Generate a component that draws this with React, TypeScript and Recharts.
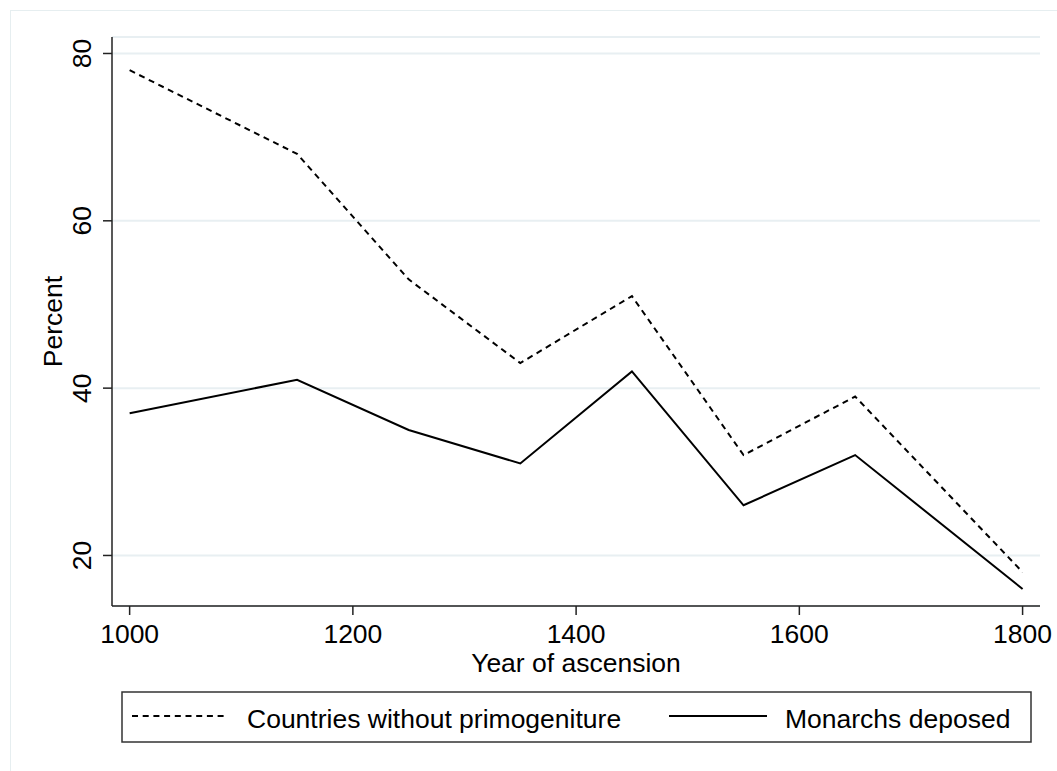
import React from 'react';
import { LineChart, Line, XAxis, YAxis, CartesianGrid, Legend } from 'recharts';

const years = [1000, 1150, 1250, 1350, 1450, 1550, 1650, 1800];
const noPrimogeniture = [78, 68, 53, 43, 51, 32, 39, 18];
const deposed = [37, 41, 35, 31, 42, 26, 32, 16];
const xTicks = [1000, 1200, 1400, 1600, 1800];
const yTicks = [20, 40, 60, 80];
const seriesNames = ['Countries without primogeniture', 'Monarchs deposed'];

const data = years.map((y, i) => ({ year: y, nop: noPrimogeniture[i], dep: deposed[i] }));

const FONT = '"Liberation Sans", Arial, Helvetica, sans-serif';
const AXIS = '#222';
const FS = 26.5;

const YTick = (props: any) => {
  const { x, y, payload } = props;
  return (
    <text x={x} y={y} transform={`rotate(-90, ${x}, ${y})`} textAnchor="middle" fontSize={FS} fontFamily={FONT} fill="#000">
      {payload.value}
    </text>
  );
};

const LegendBox = () => (
  <svg width={911} height={52} style={{ display: 'block' }}>
    <rect x={1} y={1} width={909} height={50} fill="#fff" stroke="#333" strokeWidth={1.5} />
    <line x1={11} x2={107} y1={25} y2={25} stroke="#000" strokeWidth={2} strokeDasharray="6 4.7" />
    <text x={126} y={36.5} fontSize={FS} fontFamily={FONT} fill="#000">{seriesNames[0]}</text>
    <line x1={548} x2={646} y1={25} y2={25} stroke="#000" strokeWidth={2} />
    <text x={664} y={36.5} fontSize={FS} fontFamily={FONT} fill="#000">{seriesNames[1]}</text>
  </svg>
);

export default function App() {
  return (
    <div style={{ position: 'absolute', left: 0, top: 0, width: 1057, height: 771, overflow: 'hidden', background: '#fff' }}>
      <div style={{ position: 'absolute', left: 10, top: 10, width: 1200, height: 900, border: '1.5px solid #e6eef0', boxSizing: 'border-box' }} />
      <LineChart width={1057} height={771} data={data} margin={{ top: 37, right: 17, bottom: 105, left: 0 }}>
        <CartesianGrid horizontal vertical={false} stroke="#e8eff2" strokeWidth={2} />
        <XAxis
          dataKey="year"
          type="number"
          domain={[984.2, 1815.6]}
          ticks={xTicks}
          height={60}
          tickSize={9}
          tickMargin={9}
          stroke={AXIS}
          strokeWidth={1.5}
          tick={{ fontSize: FS, fontFamily: FONT, fill: '#000' }}
          label={{
            content: (p: any) => {
              const vb = p.viewBox;
              return (
                <text x={vb.x + vb.width / 2} y={672} textAnchor="middle" fontSize={FS} fontFamily={FONT} fill="#000">
                  Year of ascension
                </text>
              );
            },
          }}
        />
        <YAxis
          type="number"
          domain={[13.96, 81.97]}
          ticks={yTicks}
          width={112}
          tickSize={9}
          tickMargin={12}
          stroke={AXIS}
          strokeWidth={1.5}
          tick={<YTick />}
          allowDataOverflow
          label={{
            content: (p: any) => {
              const vb = p.viewBox;
              const cy = vb.y + vb.height / 2;
              return (
                <text x={62} y={cy} transform={`rotate(-90, 62, ${cy})`} textAnchor="middle" fontSize={FS} fontFamily={FONT} fill="#000">
                  Percent
                </text>
              );
            },
          }}
        />
        <Legend
          layout="horizontal"
          verticalAlign="middle"
          align="center"
          wrapperStyle={{ position: 'absolute', left: 121, top: 691, width: 911, height: 52 }}
          content={() => <LegendBox />}
        />
        <Line dataKey="nop" name={seriesNames[0]} stroke="#000" strokeWidth={2} strokeDasharray="6 4.7" dot={false} isAnimationActive={false} />
        <Line dataKey="dep" name={seriesNames[1]} stroke="#000" strokeWidth={2} dot={false} isAnimationActive={false} />
      </LineChart>
    </div>
  );
}
